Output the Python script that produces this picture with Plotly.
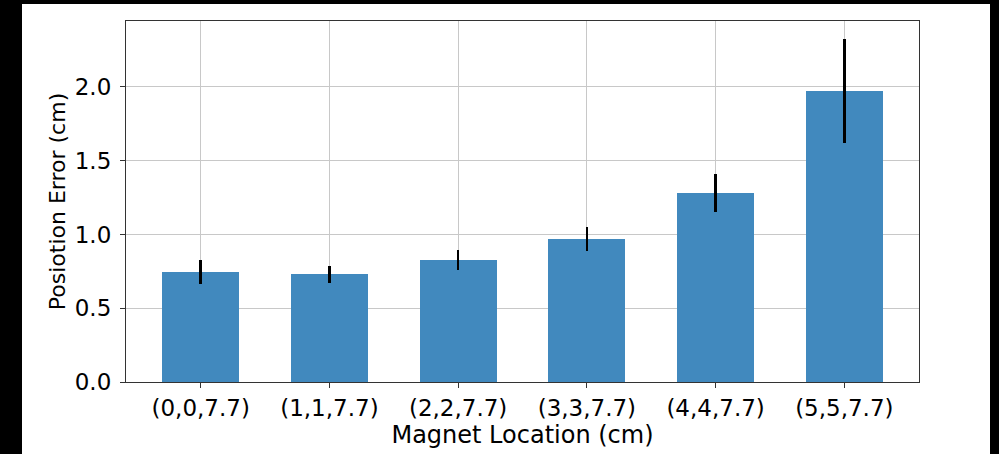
import plotly.graph_objects as go

# Mean position error and its spread at each magnet location
locations = ["(0,0,7.7)", "(1,1,7.7)", "(2,2,7.7)", "(3,3,7.7)", "(4,4,7.7)", "(5,5,7.7)"]
mean_error = [0.744, 0.730, 0.825, 0.968, 1.280, 1.972]
std_error = [0.080, 0.056, 0.068, 0.080, 0.127, 0.354]

W, H = 999, 454
L, R, T, B = 126, 80, 21, 72
pw, ph = W - L - R, H - T - B

FONT = "DejaVu Sans"
positions = list(range(len(locations)))

fig = go.Figure()
fig.add_trace(go.Bar(
    x=positions,
    y=mean_error,
    width=0.6,
    marker=dict(color="#4189be", line=dict(width=0)),
    error_y=dict(type="data", array=std_error, visible=True,
                 color="black", thickness=2.6, width=0),
))

# white figure panel framed by black borders
def px_x(p):
    return (p - L) / pw

def px_y(p):
    return (H - B - p) / ph

fig.add_shape(type="rect", xref="paper", yref="paper", layer="below",
              x0=px_x(22), x1=px_x(990), y0=px_y(454), y1=px_y(4),
              fillcolor="white", line=dict(width=0))

axis_common = dict(
    showline=True, linecolor="#333333", linewidth=1.2, mirror=True,
    ticks="outside", ticklen=5, tickwidth=1.2, tickcolor="#333333",
    showgrid=True, gridcolor="#c8c8c8", gridwidth=1.2,
    zeroline=False,
    tickfont=dict(family=FONT, size=23, color="black"),
)

fig.update_layout(
    width=W, height=H,
    margin=dict(l=L, r=R, t=T, b=B, pad=0),
    paper_bgcolor="black",
    plot_bgcolor="white",
    showlegend=False,
    bargap=0,
    xaxis=dict(
        range=[-0.58, 5.58],
        tickvals=positions, ticktext=locations,
        title=dict(text="Magnet Location (cm)", standoff=4,
                   font=dict(family=FONT, size=24, color="black")),
        **axis_common,
    ),
    yaxis=dict(
        range=[0, 2.447],
        tickvals=[0, 0.5, 1.0, 1.5, 2.0], tickformat=".1f",
        ticklabelstandoff=4,
        title=dict(text="Posiotion Error (cm)", standoff=3,
                   font=dict(family=FONT, size=22, color="black")),
        **axis_common,
    ),
)

fig.write_html("out.html")
